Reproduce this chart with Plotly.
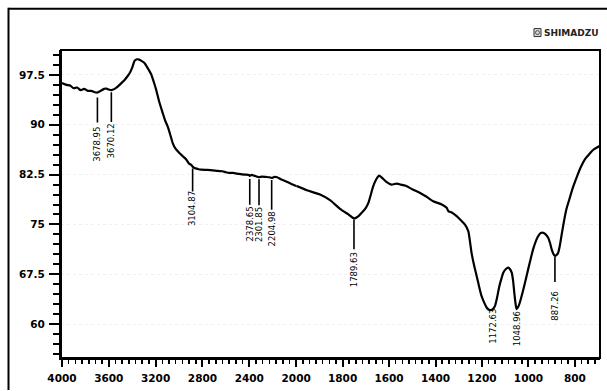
import numpy as np
import plotly.graph_objects as go

# ---------------- data ----------------
wn_hi = [4000, 3960, 3930, 3900, 3870, 3840, 3810, 3780, 3750, 3720, 3697, 3670, 3640,
         3620, 3600, 3578, 3550, 3524, 3490, 3465, 3440, 3422, 3400, 3380, 3360, 3340,
         3320, 3295, 3270, 3238, 3215, 3195, 3170, 3139, 3120, 3097, 3075, 3054, 3030,
         2997, 2970, 2940, 2912, 2898, 2884, 2869, 2840, 2813, 2760, 2714, 2670, 2629,
         2600, 2572, 2540, 2487, 2440, 2402, 2396, 2380, 2360, 2335, 2317, 2290, 2260,
         2230, 2209, 2185, 2162, 2130, 2090, 2040, 2000]
t_hi = [96.3, 96.0, 95.9, 95.5, 95.6, 95.2, 95.4, 95.1, 95.1, 94.9, 94.85, 95.1, 95.4,
        95.45, 95.3, 95.2, 95.4, 95.75, 96.3, 96.75, 97.3, 97.75, 98.6, 99.6, 99.85, 99.8,
        99.6, 99.3, 98.6, 97.6, 96.4, 95.25, 93.5, 91.75, 90.7, 89.75, 88.5, 87.25, 86.4,
        85.75, 85.3, 84.8, 84.1, 84.0, 83.7, 83.5, 83.35, 83.25, 83.2, 83.15, 83.05, 83.0,
        82.85, 82.75, 82.75, 82.6, 82.5, 82.45, 82.3, 82.45, 82.35, 82.2, 82.1, 82.2, 82.15,
        82.1, 82.0, 82.15, 82.1, 81.8, 81.5, 81.1, 80.8]

wn_lo = [2000, 1954, 1897, 1854, 1811, 1775, 1751, 1730, 1718, 1700, 1689, 1668, 1655,
         1643, 1630, 1613, 1590, 1566, 1550, 1531, 1500, 1470, 1440, 1410, 1373, 1352,
         1345, 1330, 1309, 1290, 1274, 1259, 1252, 1245, 1235, 1223, 1212, 1202, 1190,
         1180, 1170, 1161, 1152, 1144, 1135, 1125, 1115, 1108, 1097, 1087, 1080, 1072,
         1066, 1061, 1056, 1051, 1044, 1037, 1022, 1008, 994, 980, 968, 958, 947, 937,
         926, 915, 907, 900, 893, 886, 879, 872, 865, 858, 848, 837, 823, 808, 790, 775,
         757, 740, 722, 692]
t_lo = [80.8, 80.15, 79.5, 78.65, 77.35, 76.5, 75.9, 76.3, 76.75, 77.5, 78.25, 80.75, 81.8,
        82.35, 82.0, 81.45, 81.0, 81.15, 81.0, 80.85, 80.3, 79.8, 79.2, 78.5, 78.0, 77.5,
        77.0, 76.8, 76.25, 75.6, 75.0, 74.0, 72.5, 70.75, 69.0, 67.25, 65.6, 64.25, 63.2,
        62.5, 62.15, 62.1, 62.3, 62.75, 64.0, 65.75, 67.0, 67.75, 68.3, 68.5, 68.3, 67.75,
        66.5, 64.75, 63.2, 62.25, 62.6, 63.25, 65.2, 67.25, 69.3, 71.25, 72.5, 73.25, 73.7,
        73.75, 73.5, 73.0, 72.2, 71.25, 70.6, 70.25, 70.4, 70.75, 71.8, 73.25, 75.3, 77.25,
        78.9, 80.6, 82.3, 83.6, 84.8, 85.5, 86.2, 86.85]

peak_labels = ["3678.95", "3670.12", "3104.87", "2378.65", "2301.85", "2204.98",
               "1789.63", "1172.63", "1048.96", "887.26"]
peak_wn = [3697, 3578, 2884, 2396, 2317, 2209, 1751, 1154, 1051, 886]

x_ticks_hi = [4000, 3600, 3200, 2800, 2400, 2000]
x_ticks_lo = [1800, 1600, 1400, 1200, 1000, 800]
y_ticks = [60, 67.5, 75, 82.5, 90, 97.5]
y_ticktext = ["60", "67.5", "75", "82.5", "90", "97.5"]

# ---------------- layout / style ----------------
W, H = 607, 391          # visible picture size
W_LAYOUT = W + 15        # the page renders the figure 15px narrower than asked
ML, MR, MT, MB = 61, 7, 50, 32
PW, PH = W - ML - MR, H - MT - MB
Y_RANGE = [54.9, 101.25]
X_HI_RANGE = [4008, 2000]
X_LO_RANGE = [2000, 692]
split = (X_HI_RANGE[0] - X_HI_RANGE[1]) / 8.54 / PW  # fraction of width for 4000-2000

# pixel offsets below the curve: (line start, line end), and label centre
peak_line_px = [(5, 30), (2, 32), (2, 25), (3, 29), (2, 28), (2, 32), (1, 31), None, None, (1, 26)]
peak_text_px = [52, 51, 42, 48, 48, 51, 51, 17, 19.5, 50]

unit_per_px = (Y_RANGE[1] - Y_RANGE[0]) / PH

def px_x(px):
    return (px - ML) / PW

def px_y(py):
    return (H - MB - py) / PH

all_wn = np.array(wn_lo[::-1] + wn_hi[::-1], dtype=float)
all_t = np.array(t_lo[::-1] + t_hi[::-1], dtype=float)
order = np.argsort(all_wn)
all_wn, all_t = all_wn[order], all_t[order]

font_tick = dict(family="DejaVu Sans", size=10.5, color="black", weight="bold")

fig = go.Figure()
line_style = dict(color="black", width=2.2, shape="spline", smoothing=0.6)
fig.add_trace(go.Scatter(x=wn_hi, y=t_hi, mode="lines", line=line_style,
                         xaxis="x", yaxis="y", showlegend=False, hoverinfo="skip"))
fig.add_trace(go.Scatter(x=wn_lo, y=t_lo, mode="lines", line=line_style,
                         xaxis="x2", yaxis="y", showlegend=False, hoverinfo="skip"))

shapes = []
annotations = []
for lab, wn, lp, tp in zip(peak_labels, peak_wn, peak_line_px, peak_text_px):
    xr = "x" if wn > 2000 else "x2"
    yc = float(np.interp(wn, all_wn, all_t))
    if lp is not None:
        shapes.append(dict(type="line", xref=xr, yref="y", x0=wn, x1=wn,
                           y0=yc - lp[0] * unit_per_px, y1=yc - lp[1] * unit_per_px,
                           line=dict(color="black", width=1.6)))
    annotations.append(dict(x=wn, y=yc - tp * unit_per_px, xref=xr, yref="y",
                            text=lab, showarrow=False, textangle=-90,
                            xanchor="center", yanchor="middle",
                            font=dict(family="DejaVu Sans", size=8.5, color="black")))

# plot frame
shapes.append(dict(type="rect", xref="paper", yref="paper", x0=0, x1=1, y0=0, y1=1,
                   line=dict(color="black", width=2), layer="above"))
# outer frame (top and left edges; the others fall outside the picture)
shapes.append(dict(type="line", xref="paper", yref="paper",
                   x0=px_x(8.5), x1=px_x(W + 10), y0=px_y(8.5), y1=px_y(8.5),
                   line=dict(color="black", width=2)))
shapes.append(dict(type="line", xref="paper", yref="paper",
                   x0=px_x(8.5), x1=px_x(8.5), y0=px_y(7.5), y1=px_y(H),
                   line=dict(color="black", width=2)))
# logo icon
shapes.append(dict(type="rect", xref="paper", yref="paper",
                   x0=px_x(534), x1=px_x(541), y0=px_y(36.5), y1=px_y(28.5),
                   line=dict(color="#333333", width=1), fillcolor="#d8d8d8"))
shapes.append(dict(type="circle", xref="paper", yref="paper",
                   x0=px_x(535.5), x1=px_x(539.5), y0=px_y(34.5), y1=px_y(30.5),
                   line=dict(color="#333333", width=0.8)))
annotations.append(dict(x=px_x(542), y=px_y(32.5), xref="paper", yref="paper",
                        text="SHIMADZU", showarrow=False, xanchor="left", yanchor="middle",
                        font=dict(family="DejaVu Sans", size=9, color="#222222", weight="bold")))

xcommon = dict(ticks="outside", ticklen=7, tickwidth=2, tickcolor="black",
               showline=True, linecolor="black", linewidth=2, showgrid=False,
               zeroline=False, tickfont=font_tick, anchor="y", ticklabelstandoff=2)

fig.update_layout(
    width=W_LAYOUT, height=H,
    margin=dict(l=ML, r=MR, t=MT, b=MB, pad=0),
    paper_bgcolor="white", plot_bgcolor="white",
    showlegend=False,
    xaxis=dict(domain=[0, split], range=X_HI_RANGE, tickmode="array",
               tickvals=x_ticks_hi, ticktext=[str(v) for v in x_ticks_hi],
               minor=dict(ticks="outside", ticklen=4, tickwidth=1.6, tickcolor="black",
                          tick0=4000, dtick=400 / 7, showgrid=False),
               **xcommon),
    xaxis2=dict(domain=[split, 1], range=X_LO_RANGE, tickmode="array",
                tickvals=x_ticks_lo, ticktext=[str(v) for v in x_ticks_lo],
                minor=dict(ticks="outside", ticklen=4, tickwidth=1.6, tickcolor="black",
                           tick0=2000, dtick=200 / 7, showgrid=False),
                **xcommon),
    yaxis=dict(range=Y_RANGE, tickmode="array", tickvals=y_ticks, ticktext=y_ticktext,
               ticks="outside", ticklen=10, tickwidth=2, tickcolor="black",
               minor=dict(ticks="outside", ticklen=6, tickwidth=2, tickcolor="black",
                          tick0=60, dtick=1.5, showgrid=False),
               showline=True, linecolor="black", linewidth=2,
               showgrid=True, gridcolor="#f0f0f0", griddash="dot", gridwidth=1,
               zeroline=False, tickfont=font_tick, anchor="x", ticklabelstandoff=2),
    shapes=shapes,
    annotations=annotations,
)

fig.write_html("out.html",
               config={"displayModeBar": False, "staticPlot": True},
               post_script="document.body.style.margin='0px';document.body.style.overflow='hidden';")
